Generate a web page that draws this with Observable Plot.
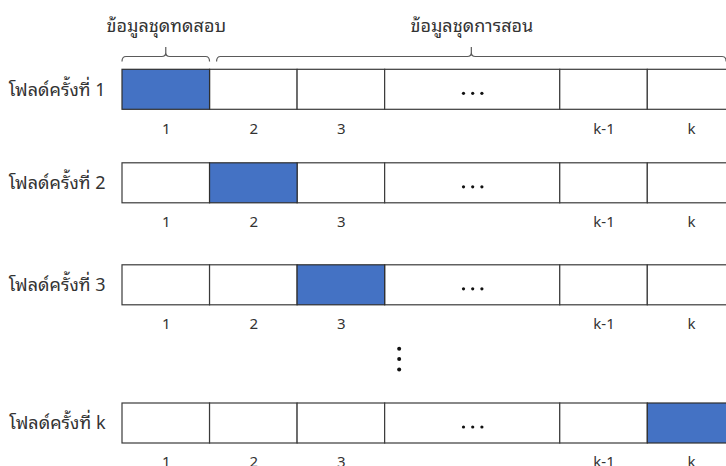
<!DOCTYPE html>
<html>
<head>
<meta charset="utf-8">
<script src="https://cdn.jsdelivr.net/npm/d3@7"></script>
<script src="https://cdn.jsdelivr.net/npm/@observablehq/plot@0.6"></script>
<style>
  html, body { margin: 0; padding: 0; background: #fff; }
  #chart svg { display: block; }
</style>
</head>
<body>
<div id="chart"></div>
<script>
// ---- data ----
const folds = ["โฟลด์ครั้งที่ 1", "โฟลด์ครั้งที่ 2", "โฟลด์ครั้งที่ 3", "โฟลด์ครั้งที่ k"];
const testSegment = [0, 1, 2, 5];             // index of the test segment for each fold
const segments = ["1", "2", "3", "...", "k-1", "k"];
const segmentUnits = [1, 1, 1, 2, 1, 1];      // relative width of each segment
const braceLabels = ["ข้อมูลชุดทดสอบ", "ข้อมูลชุดการสอน"];
const braceFrom = [0, 1.08];
const braceTo = [1, 6.9];
const vdots = [-1, 0, 1];
const hdots = [-1, 0, 1];

// ---- derived tables ----
const starts = d3.cumsum([0, ...segmentUnits]).slice(0, segmentUnits.length);
const cells = folds.flatMap((f, i) => segments.map((s, j) => ({
  fold: i, label: s, x1: starts[j], x2: starts[j] + segmentUnits[j], test: j === testSegment[i]
})));
const braces = braceLabels.map((label, i) => ({label, from: braceFrom[i], to: braceTo[i]}));
const ellipsisCells = cells.filter(d => d.label === "...");

const font = "Tahoma, 'Leelawadee UI', 'Noto Sans Thai Looped', 'Noto Sans Thai', 'Noto Sans', 'DejaVu Sans', sans-serif";

function braceRender(index, scales) {
  const g = d3.create("svg:g").attr("fill", "none").attr("stroke", "#5a5a5a").attr("stroke-width", 1.2);
  const y0 = scales.y(0) - 32.8;
  for (const b of braces) {
    const x1 = scales.x(b.from), x2 = scales.x(b.to), cx = (x1 + x2) / 2;
    const p = d3.path();
    p.moveTo(x1, y0 + 5);
    p.quadraticCurveTo(x1, y0, x1 + 4, y0);
    p.lineTo(cx - 4, y0);
    p.quadraticCurveTo(cx, y0, cx, y0 - 4);
    p.lineTo(cx, y0 - 9.5);
    p.moveTo(cx, y0 - 4);
    p.quadraticCurveTo(cx, y0, cx + 4, y0);
    p.lineTo(x2 - 4, y0);
    p.quadraticCurveTo(x2, y0, x2, y0 + 5);
    g.append("path").attr("d", p.toString());
  }
  return g.node();
}

const chart = Plot.plot({
  width: 726,
  height: 466,
  margin: 0,
  style: {fontFamily: font, background: "white", overflow: "hidden"},
  x: {type: "linear", domain: [-122 / 87.55, 604 / 87.55], range: [0, 726], axis: null},
  y: {type: "linear", domain: [0, 1, 2, 3], range: [89.3, 182.8, 284.8, 423], axis: null},
  marks: [
    Plot.rect(cells, {filter: d => !d.test, x1: "x1", x2: "x2", y1: "fold", y2: "fold",
      insetTop: -20, insetBottom: -20, fill: "white", stroke: "#3a3a3a", strokeWidth: 1.2}),
    Plot.rect(cells, {filter: d => d.test, x1: "x1", x2: "x2", y1: "fold", y2: "fold",
      insetTop: -20, insetBottom: -20, fill: "#4472C4", stroke: "#2f2f2f", strokeWidth: 1.2}),
    Plot.text(cells, {filter: d => d.label !== "...", x: d => (d.x1 + d.x2) / 2, y: "fold", dy: 39,
      text: "label", fontSize: 15, fill: "#333"}),
    ...hdots.map(k => Plot.dot(ellipsisCells, {x: d => (d.x1 + d.x2) / 2, y: "fold", dx: k * 9.2, dy: 3.5,
      r: 1.6, fill: "#111", stroke: null})),
    Plot.text(folds, {x: () => 0, y: (d, i) => i, dx: -17, textAnchor: "end", text: d => d,
      fontSize: 18, fill: "#333"}),
    Plot.text(braces, {x: d => (d.from + d.to) / 2, y: () => 0, dy: -64, text: "label",
      fontSize: 18, fill: "#333"}),
    Plot.dot(vdots, {x: () => 3.16, y: d => 2.534 + d * 0.075, r: 2, fill: "#111", stroke: null}),
    braceRender
  ]
});
document.getElementById("chart").appendChild(chart);
</script>
</body>
</html>
